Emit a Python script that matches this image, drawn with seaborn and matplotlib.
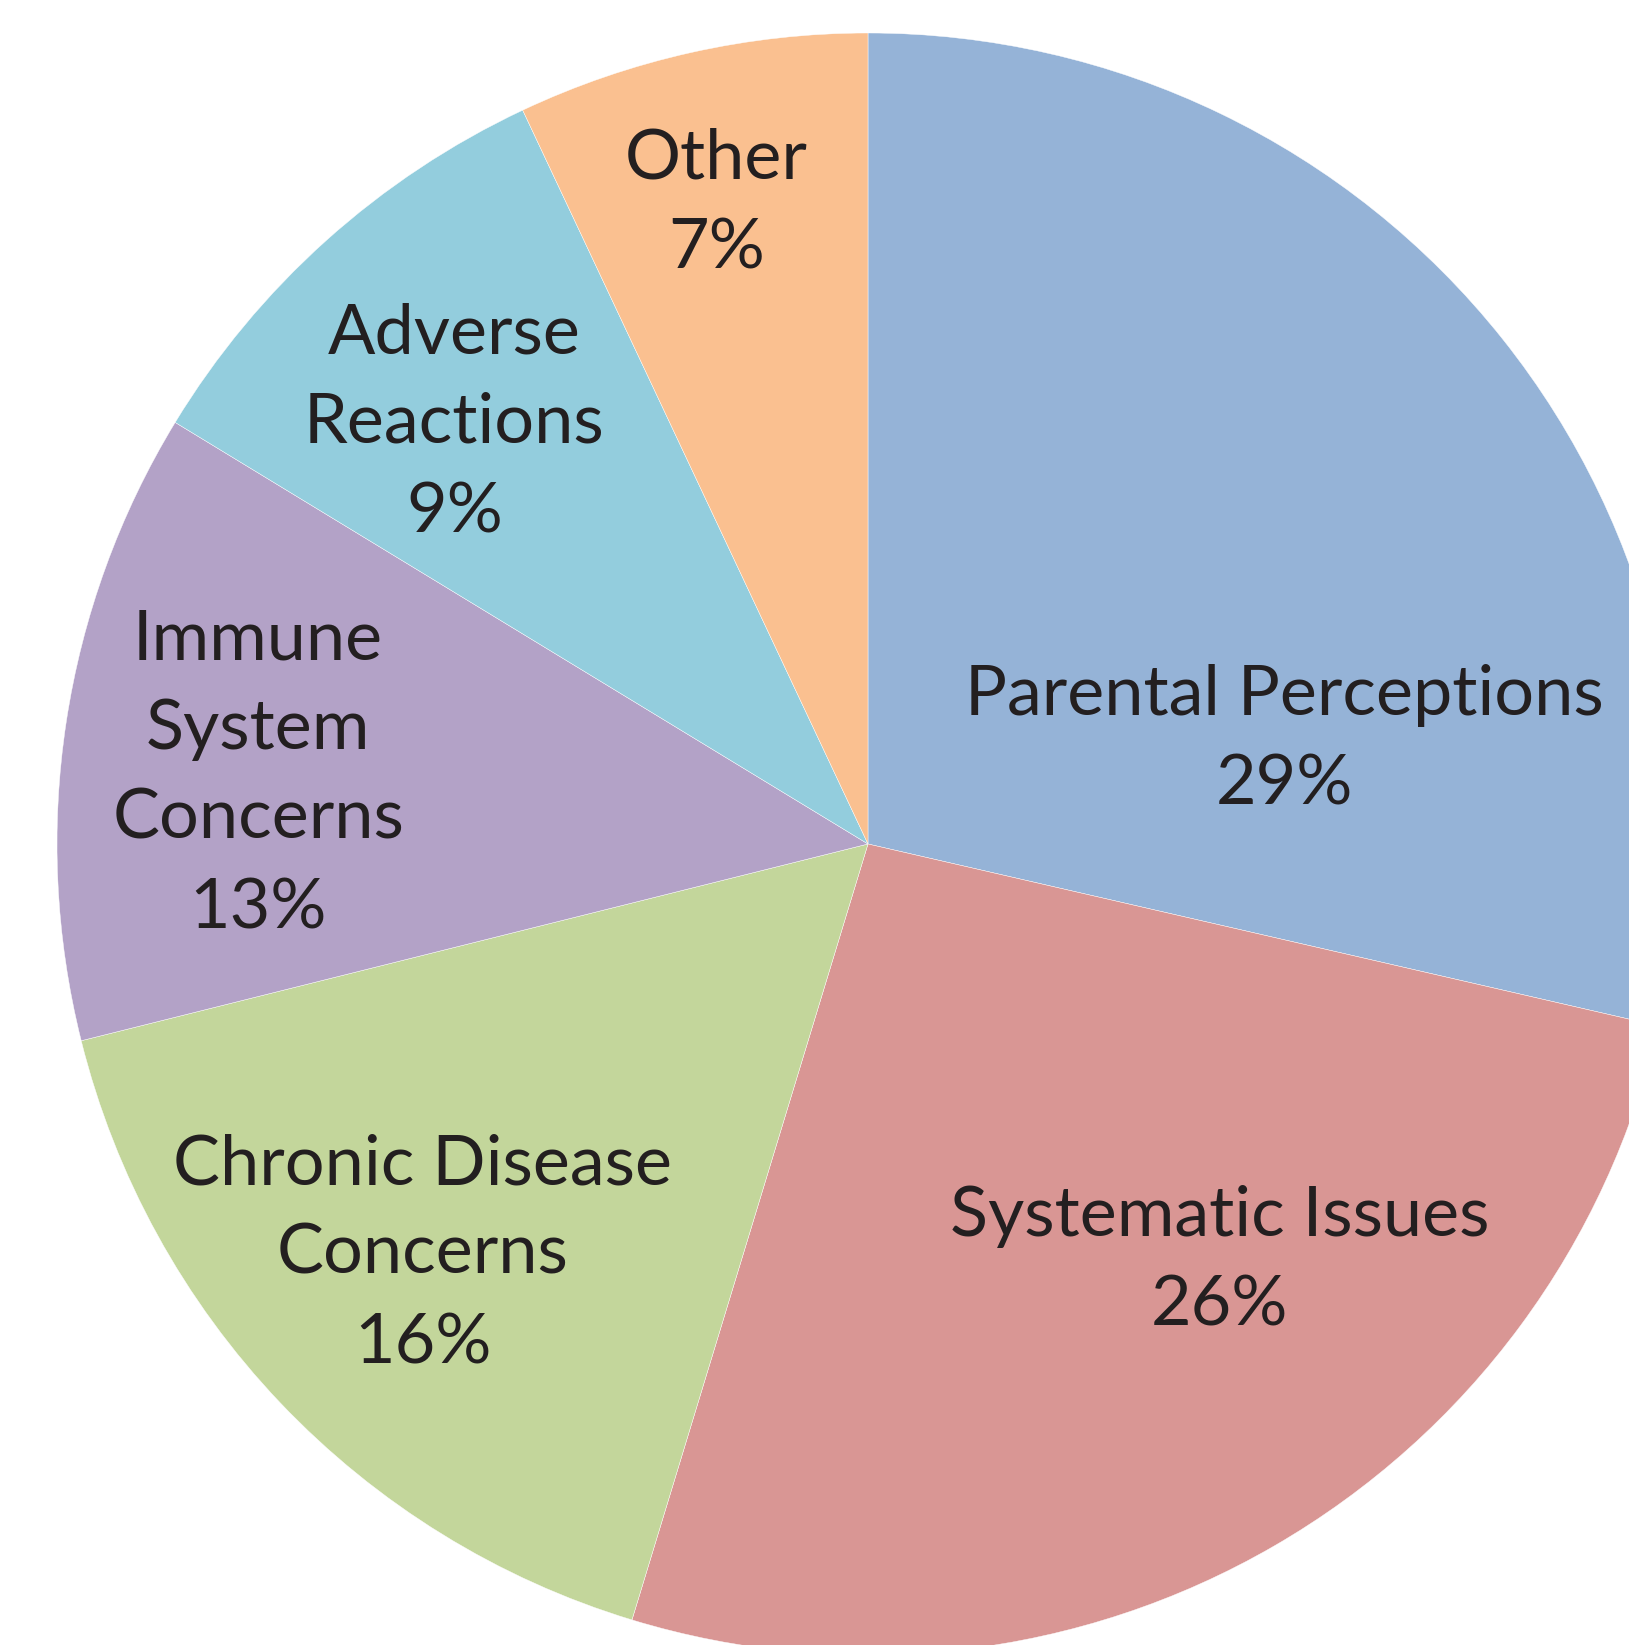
import numpy as np
import seaborn as sns
import matplotlib.pyplot as plt

# slice data, clockwise from 12 o'clock
categories = ['Parental Perceptions', 'Systematic Issues', 'Chronic Disease Concerns',
              'Immune System Concerns', 'Adverse Reactions', 'Other']
shares = [28.6, 26.1, 16.4, 12.6, 9.3, 7.0]
label_text = ['Parental Perceptions', 'Systematic Issues', 'Chronic Disease\nConcerns',
              'Immune\nSystem\nConcerns', 'Adverse\nReactions', 'Other']
colors = ['#95B3D7', '#D99694', '#C3D69B', '#B3A2C7', '#93CDDD', '#FAC090']
# label anchor points in units of the pie radius
label_xy = [(0.514, 0.128), (0.434, -0.515), (-0.549, -0.506),
            (-0.752, 0.086), (-0.510, 0.519), (-0.187, 0.789)]

sns.set_theme(style='white')
plt.rcParams['font.family'] = ['Lato', 'DejaVu Sans']

fig = plt.figure(figsize=(16.29, 16.45), dpi=100)
ax = fig.add_axes([0, 0, 1, 1])
ax.pie(shares, colors=colors, startangle=90, counterclock=False, radius=1,
       wedgeprops=dict(edgecolor='white', linewidth=0.3))

for txt, val, (x, y) in zip(label_text, shares, label_xy):
    ax.text(x, y, f'{txt}\n{round(val):d}%', ha='center', va='center',
            fontsize=50.5, color='#231F20', linespacing=1.52)

ax.set_aspect('auto')
ax.set_xlim(-868 / 811, (1629 - 868) / 811)
ax.set_ylim((844 - 1645) / 811, 844 / 811)
ax.axis('off')

fig.savefig('out.png', dpi=100, facecolor='white')
